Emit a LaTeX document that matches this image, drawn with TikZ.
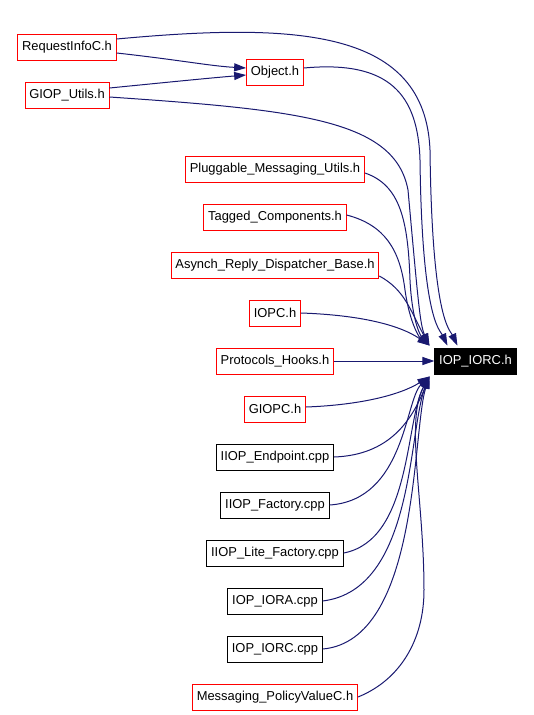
\documentclass[tikz,border=0pt]{standalone}
\usepackage{fontspec}
\setmainfont{Liberation Sans}
\usepackage{tikz}
\usetikzlibrary{arrows.meta,positioning,calc}
\usepackage{xcolor}
\definecolor{edgeblue}{HTML}{191970}
\definecolor{boxred}{HTML}{FF0000}
\tikzset{
  file/.style={draw=boxred,fill=white,line width=0.75pt,minimum height=19.5pt,
    inner xsep=3.2pt,inner ysep=0pt,font=\fontsize{9.7}{11}\selectfont},
  srcfile/.style={file,draw=black},
  target/.style={file,draw=black,fill=black,text=white},
  dep/.style={-{Triangle[length=9pt,width=6pt]},draw=edgeblue,line width=0.75pt}
}
\begin{document}
\begin{tikzpicture}[x=0.75pt,y=-0.75pt,node distance=15.75pt]
  \useasboundingbox (0,0) rectangle (534,715);
  % files at the top
  \node[file] (req) at (67,47) {RequestInfoC.h};
  \node[file] (giop) at (67,95) {GIOP\_Utils.h};
  \node[file] (obj) at (275,72) {Object.h};
  \node[target] (tgt) at (475.5,361) {IOP\_IORC.h};
  % the column of includers
  \node[file] (plug) at (275,169) {Pluggable\_Messaging\_Utils.h};
  \node[file,below=of plug] (tagged) {Tagged\_Components.h};
  \node[file,below=of tagged] (asynch) {Asynch\_Reply\_Dispatcher\_Base.h};
  \node[file,below=of asynch] (iopc) {IOPC.h};
  \node[file,below=of iopc] (hooks) {Protocols\_Hooks.h};
  \node[file,below=of hooks] (giopc) {GIOPC.h};
  \node[srcfile,below=of giopc] (endp) {IIOP\_Endpoint.cpp};
  \node[srcfile,below=of endp] (fact) {IIOP\_Factory.cpp};
  \node[srcfile,below=of fact] (lite) {IIOP\_Lite\_Factory.cpp};
  \node[srcfile,below=of lite] (iora) {IOP\_IORA.cpp};
  \node[srcfile,below=of iora] (iorc) {IOP\_IORC.cpp};
  \node[file,below=of iorc] (polval) {Messaging\_PolicyValueC.h};

  % edges into Object.h
  \draw[dep] ($(req.east)+(0,6)$) .. controls (180,60) and (210,66) .. ($(obj.west)+(0,-4)$);
  \draw[dep] ($(giop.east)+(0,-7)$) .. controls (170,82) and (210,78) .. ($(obj.west)+(0,3)$);
  % edges from above
  \draw[dep] ($(req.east)+(0,-8)$) .. controls (300,22) and (425,30) .. (430,150)
    .. controls (432,320) and (450,330) .. ($(tgt.north west)+(23,-2)$);
  \draw[dep] ($(obj.east)+(0,-4)$) .. controls (390,60) and (418,95) .. (420,160)
    .. controls (422,320) and (440,330) .. ($(tgt.north west)+(13,-2)$);
  \draw[dep] ($(giop.east)+(0,2)$) .. controls (300,110) and (395,120) .. (408,190)
    .. controls (418,300) and (420,325) .. ($(tgt.north west)+(-5,-2)$);
  \draw[dep] ($(plug.east)+(0,4)$) .. controls (400,185) and (408,220) .. (410,280)
    .. controls (412,320) and (420,335) .. ($(tgt.north west)+(-5,-2)$);
  \draw[dep] ($(tagged.east)+(0,-2)$) .. controls (385,225) and (400,250) .. (405,290)
    .. controls (410,325) and (420,338) .. ($(tgt.north west)+(-5,-2)$);
  \draw[dep] ($(asynch.east)+(0,11)$) .. controls (405,290) and (410,310) .. ($(tgt.north west)+(-5,-2)$);
  \draw[dep] (iopc.east) .. controls (360,315) and (400,325) .. ($(tgt.north west)+(-5,-2)$);
  \draw[dep] (hooks) -- (tgt);
  % edges from below
  \draw[dep] ($(giopc.east)+(0,-2)$) .. controls (360,405) and (400,395) .. ($(tgt.south west)+(-5,2)$);
  \draw[dep] (endp.east) .. controls (390,455) and (412,420) .. ($(tgt.south west)+(-5,2)$);
  \draw[dep] (fact.east) .. controls (405,500) and (405,400) .. ($(tgt.south west)+(-5,2)$);
  \draw[dep] (lite.east) .. controls (412,540) and (405,420) .. ($(tgt.south west)+(-5,2)$);
  \draw[dep] (iora.east) .. controls (415,590) and (408,430) .. ($(tgt.south west)+(-5,2)$);
  \draw[dep] (iorc.east) .. controls (420,640) and (412,430) .. ($(tgt.south west)+(-5,2)$);
  \draw[dep] (polval.east) .. controls (400,680) and (424,640) .. (424,590)
    .. controls (424,500) and (405,420) .. ($(tgt.south west)+(-5,2)$);
\end{tikzpicture}
\end{document}
